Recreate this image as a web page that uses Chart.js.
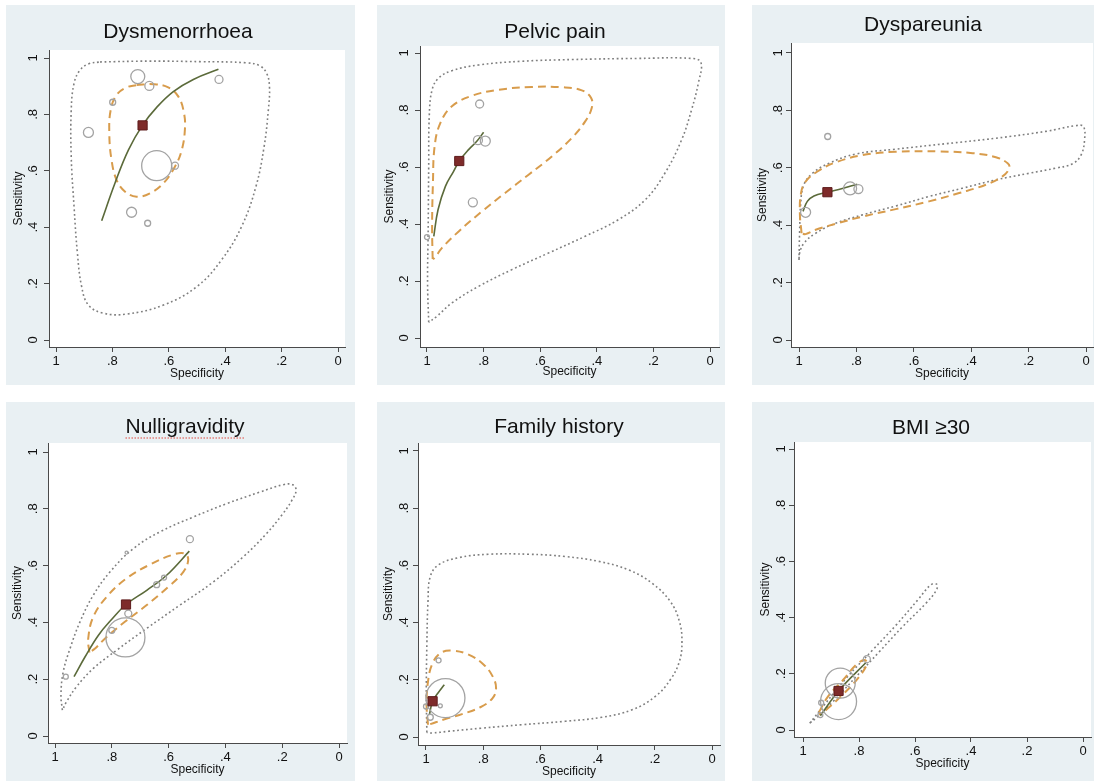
<!DOCTYPE html>
<html>
<head>
<meta charset="utf-8">
<script src="https://cdn.jsdelivr.net/npm/chart.js@4.4.1/dist/chart.umd.min.js"></script>
<style>
  html, body { margin: 0; padding: 0; background: #fff; }
  #page { position: relative; width: 1094px; height: 782px; overflow: hidden; }
  .panel { position: absolute; background: #e9f0f3; }
  .panel canvas { position: absolute; left: 0; top: 0; }
</style>
</head>
<body>
<div id="page"></div>
<script>
// Axis ticks (same for both axes, x runs 1 -> 0)
const tickValues = [0, 0.2, 0.4, 0.6, 0.8, 1];
const tickLabels = ['0', '.2', '.4', '.6', '.8', '1'];
const titles = ['Dysmenorrhoea', 'Pelvic pain', 'Dyspareunia', 'Nulligravidity', 'Family history', 'BMI ≥30'];

// Points are [specificity, sensitivity]
// Dysmenorrhoea
const dysmPred = [[0.844, 0.986], [0.667, 0.989], [0.489, 0.987], [0.324, 0.983], [0.277, 0.972], [0.253, 0.946], [0.243, 0.898], [0.247, 0.816], [0.262, 0.686], [0.291, 0.544], [0.342, 0.402], [0.413, 0.284], [0.501, 0.189], [0.619, 0.124], [0.749, 0.092], [0.832, 0.095], [0.885, 0.124], [0.909, 0.189], [0.924, 0.307], [0.936, 0.473], [0.946, 0.650], [0.946, 0.816], [0.936, 0.910], [0.915, 0.957], [0.885, 0.979], [0.844, 0.986]];
const dysmConf = [[0.714, 0.904], [0.655, 0.907], [0.602, 0.896], [0.566, 0.863], [0.546, 0.804], [0.543, 0.745], [0.554, 0.674], [0.578, 0.615], [0.619, 0.556], [0.667, 0.520], [0.714, 0.508], [0.755, 0.526], [0.785, 0.567], [0.803, 0.638], [0.811, 0.733], [0.806, 0.816], [0.785, 0.869], [0.749, 0.896], [0.714, 0.904]];
const dysmSroc = [[0.838, 0.423], [0.791, 0.556], [0.743, 0.674], [0.693, 0.762], [0.643, 0.825], [0.584, 0.881], [0.513, 0.924], [0.424, 0.960]];
const dysmSummary = [[0.693, 0.761]];
const dysmStudies = [[0.710, 0.934], [0.669, 0.901], [0.422, 0.924], [0.799, 0.843], [0.885, 0.736], [0.643, 0.618], [0.578, 0.618], [0.732, 0.453], [0.675, 0.414]];
const dysmWeights = [7, 4.5, 4, 3, 5, 15, 3.5, 5, 3];

// Pelvic pain
const pelvPred = [[0.994, 0.055], [0.998, 0.193], [0.996, 0.368], [0.994, 0.602], [0.992, 0.778], [0.982, 0.871], [0.959, 0.912], [0.912, 0.938], [0.818, 0.958], [0.665, 0.971], [0.488, 0.977], [0.253, 0.981], [0.065, 0.981], [0.032, 0.967], [0.041, 0.895], [0.065, 0.801], [0.100, 0.696], [0.159, 0.579], [0.229, 0.485], [0.324, 0.415], [0.441, 0.357], [0.571, 0.298], [0.700, 0.240], [0.818, 0.181], [0.912, 0.123], [0.965, 0.076], [0.994, 0.055]];
const pelvConf = [[0.980, 0.277], [0.982, 0.392], [0.979, 0.544], [0.973, 0.673], [0.953, 0.754], [0.912, 0.813], [0.841, 0.850], [0.747, 0.871], [0.629, 0.881], [0.524, 0.880], [0.453, 0.869], [0.420, 0.842], [0.418, 0.807], [0.441, 0.760], [0.488, 0.702], [0.559, 0.637], [0.641, 0.573], [0.724, 0.509], [0.806, 0.444], [0.888, 0.374], [0.947, 0.316], [0.973, 0.281], [0.980, 0.277]];
const pelvSroc = [[0.976, 0.357], [0.961, 0.450], [0.935, 0.532], [0.906, 0.585], [0.886, 0.621], [0.853, 0.661], [0.824, 0.690], [0.800, 0.722]];
const pelvSummary = [[0.886, 0.621]];
const pelvStudies = [[0.814, 0.821], [0.820, 0.694], [0.794, 0.691], [0.838, 0.476], [1.0, 0.354]];
const pelvWeights = [4, 4.5, 5, 4.5, 2.5];

// Dyspareunia
const dyspPred = [[1.0, 0.279], [0.998, 0.372], [0.994, 0.477], [0.983, 0.541], [0.953, 0.581], [0.895, 0.616], [0.802, 0.648], [0.663, 0.665], [0.488, 0.684], [0.314, 0.703], [0.140, 0.727], [0.035, 0.747], [0.009, 0.744], [0.005, 0.698], [0.017, 0.645], [0.047, 0.614], [0.105, 0.599], [0.198, 0.581], [0.314, 0.558], [0.430, 0.529], [0.547, 0.500], [0.663, 0.467], [0.779, 0.436], [0.872, 0.407], [0.942, 0.372], [0.983, 0.337], [0.998, 0.302], [1.0, 0.279]];
const dyspConf = [[0.991, 0.372], [0.997, 0.442], [0.993, 0.512], [0.977, 0.552], [0.936, 0.587], [0.872, 0.619], [0.779, 0.644], [0.663, 0.656], [0.512, 0.657], [0.395, 0.651], [0.314, 0.637], [0.273, 0.616], [0.267, 0.599], [0.291, 0.570], [0.349, 0.541], [0.442, 0.512], [0.547, 0.483], [0.663, 0.456], [0.779, 0.430], [0.872, 0.405], [0.942, 0.384], [0.977, 0.369], [0.991, 0.372]];
const dyspSroc = [[0.986, 0.448], [0.971, 0.483], [0.948, 0.502], [0.901, 0.515], [0.849, 0.528], [0.797, 0.543]];
const dyspSummary = [[0.901, 0.515]];
const dyspStudies = [[0.900, 0.709], [0.822, 0.528], [0.793, 0.526], [0.977, 0.445]];
const dyspWeights = [3, 6.5, 4.5, 5];

// Nulligravidity
const nullPred = [[0.974, 0.091], [0.979, 0.144], [0.971, 0.226], [0.947, 0.308], [0.912, 0.402], [0.865, 0.496], [0.806, 0.578], [0.724, 0.660], [0.630, 0.719], [0.513, 0.771], [0.396, 0.818], [0.278, 0.859], [0.196, 0.885], [0.163, 0.885], [0.151, 0.865], [0.167, 0.828], [0.202, 0.777], [0.255, 0.713], [0.337, 0.631], [0.442, 0.543], [0.560, 0.461], [0.677, 0.379], [0.783, 0.302], [0.865, 0.238], [0.924, 0.174], [0.959, 0.121], [0.974, 0.091]];
const nullConf = [[0.879, 0.294], [0.883, 0.343], [0.865, 0.420], [0.818, 0.490], [0.748, 0.555], [0.665, 0.604], [0.583, 0.639], [0.542, 0.642], [0.531, 0.619], [0.548, 0.578], [0.601, 0.525], [0.677, 0.461], [0.754, 0.402], [0.818, 0.349], [0.859, 0.308], [0.879, 0.294]];
const nullSroc = [[0.933, 0.209], [0.894, 0.279], [0.847, 0.355], [0.800, 0.411], [0.750, 0.463], [0.677, 0.513], [0.607, 0.566], [0.527, 0.651]];
const nullSummary = [[0.750, 0.463]];
const nullStudies = [[0.525, 0.693], [0.748, 0.646], [0.642, 0.533], [0.616, 0.558], [0.742, 0.431], [0.800, 0.372], [0.752, 0.347], [0.962, 0.209]];
const nullWeights = [3.5, 1.5, 3, 2.5, 3.5, 3, 19.5, 2.5];

// Family history
const famPred = [[0.997, 0.016], [0.999, 0.148], [0.997, 0.322], [0.993, 0.474], [0.985, 0.561], [0.956, 0.602], [0.886, 0.627], [0.781, 0.639], [0.641, 0.639], [0.513, 0.631], [0.396, 0.614], [0.291, 0.584], [0.210, 0.538], [0.146, 0.474], [0.114, 0.404], [0.105, 0.334], [0.114, 0.264], [0.146, 0.200], [0.198, 0.142], [0.280, 0.095], [0.385, 0.069], [0.513, 0.055], [0.664, 0.043], [0.804, 0.031], [0.921, 0.020], [0.979, 0.014], [0.997, 0.016]];
const famConf = [[0.993, 0.043], [0.998, 0.113], [0.993, 0.194], [0.979, 0.253], [0.950, 0.293], [0.909, 0.302], [0.851, 0.288], [0.798, 0.253], [0.767, 0.212], [0.755, 0.171], [0.767, 0.136], [0.810, 0.104], [0.874, 0.080], [0.938, 0.061], [0.985, 0.045], [0.993, 0.043]];
const famSroc = [[0.988, 0.078], [0.977, 0.125], [0.958, 0.154], [0.936, 0.183]];
const famSummary = [[0.977, 0.125]];
const famStudies = [[0.932, 0.136], [0.956, 0.268], [0.950, 0.109], [1.0, 0.107], [0.985, 0.069]];
const famWeights = [19.5, 2.5, 2, 2.5, 3];

// BMI >= 30
const bmiPred = [[0.976, 0.024], [0.929, 0.083], [0.846, 0.184], [0.751, 0.285], [0.667, 0.374], [0.590, 0.463], [0.543, 0.517], [0.523, 0.519], [0.523, 0.499], [0.561, 0.451], [0.644, 0.368], [0.727, 0.279], [0.810, 0.190], [0.893, 0.101], [0.952, 0.044], [0.976, 0.024]];
const bmiConf = [[0.943, 0.063], [0.911, 0.119], [0.857, 0.178], [0.810, 0.232], [0.780, 0.249], [0.772, 0.234], [0.804, 0.184], [0.857, 0.127], [0.911, 0.077], [0.938, 0.056], [0.943, 0.063]];
const bmiSroc = [[0.938, 0.051], [0.873, 0.139], [0.774, 0.241]];
const bmiSummary = [[0.873, 0.139]];
const bmiStudies = [[0.867, 0.167], [0.873, 0.101], [0.772, 0.252], [0.935, 0.097], [0.938, 0.053]];
const bmiWeights = [15, 18, 3.5, 2.5, 2.5];

const series = [
  { pred: dysmPred, conf: dysmConf, sroc: dysmSroc, summary: dysmSummary, studies: dysmStudies, weights: dysmWeights },
  { pred: pelvPred, conf: pelvConf, sroc: pelvSroc, summary: pelvSummary, studies: pelvStudies, weights: pelvWeights },
  { pred: dyspPred, conf: dyspConf, sroc: dyspSroc, summary: dyspSummary, studies: dyspStudies, weights: dyspWeights },
  { pred: nullPred, conf: nullConf, sroc: nullSroc, summary: nullSummary, studies: nullStudies, weights: nullWeights },
  { pred: famPred, conf: famConf, sroc: famSroc, summary: famSummary, studies: famStudies, weights: famWeights },
  { pred: bmiPred, conf: bmiConf, sroc: bmiSroc, summary: bmiSummary, studies: bmiStudies, weights: bmiWeights },
];

// Page geometry (pixels): panel box, plot area, tick pixel anchors, text centres
const geometry = [
  { box: [6, 5, 349, 380], area: [49, 50, 345, 347], x1: 56, x0: 338, y1: 58, y0: 340, titleX: 178, titleY: 32, yTitleX: 19, xTitleY: 374, yLabX: 33 },
  { box: [377, 5, 348, 380], area: [420, 46, 719, 347], x1: 427, x0: 710, y1: 53, y0: 338, titleX: 555, titleY: 32, yTitleX: 390, xTitleY: 372, yLabX: 404 },
  { box: [752, 5, 342, 380], area: [791, 43, 1093, 347], x1: 799, x0: 1086, y1: 53, y0: 340, titleX: 923, titleY: 25, yTitleX: 763, xTitleY: 374, yLabX: 778 },
  { box: [6, 402, 349, 379], area: [48, 443, 347, 743], x1: 55, x0: 339, y1: 452, y0: 736, titleX: 185, titleY: 427, yTitleX: 18, xTitleY: 770, yLabX: 33, underline: true },
  { box: [377, 402, 348, 379], area: [418, 443, 720, 745], x1: 426, x0: 712, y1: 451, y0: 737, titleX: 559, titleY: 427, yTitleX: 389, xTitleY: 772, yLabX: 404 },
  { box: [752, 402, 342, 379], area: [794, 442, 1091, 737], x1: 803, x0: 1083, y1: 449, y0: 730, titleX: 931, titleY: 428, yTitleX: 766, xTitleY: 764, yLabX: 781 },
];

const FONT = 'Liberation Sans, Arial, Helvetica, sans-serif';
const TITLE_SIZE = 21;
const AXIS_TITLE_SIZE = 12;
const TICK_SIZE = 13;
const AXIS_COLOR = '#4a4a4a';
const TEXT_COLOR = '#111';

Chart.defaults.font.family = FONT;

const toXY = (arr) => arr.map(([x, y]) => ({ x, y }));

// white plot region, rotated y labels, spell-check squiggle under a title
const stataFrame = {
  id: 'stataFrame',
  beforeDraw(chart) {
    const { ctx, chartArea: a } = chart;
    ctx.save();
    ctx.fillStyle = '#fff';
    ctx.fillRect(a.left, a.top, a.right - a.left, a.bottom - a.top);
    ctx.restore();
  },
  afterDraw(chart, args, opts) {
    const { ctx } = chart;
    const yScale = chart.scales.y;
    ctx.save();
    ctx.font = `${TICK_SIZE}px ${FONT}`;
    ctx.fillStyle = TEXT_COLOR;
    ctx.textAlign = 'center';
    ctx.textBaseline = 'middle';
    tickValues.forEach((v, i) => {
      ctx.save();
      ctx.translate(opts.labelX, yScale.getPixelForValue(v));
      ctx.rotate(-Math.PI / 2);
      ctx.fillText(tickLabels[i], 0, 0);
      ctx.restore();
    });
    if (opts.underline) {
      ctx.font = `${TITLE_SIZE}px ${FONT}`;
      const w = ctx.measureText(chart.options.plugins.title.text).width;
      ctx.strokeStyle = '#e0463c';
      ctx.lineWidth = 1.2;
      ctx.setLineDash([1.5, 1.5]);
      ctx.beginPath();
      ctx.moveTo(opts.titleX - w / 2, opts.titleY + 11);
      ctx.lineTo(opts.titleX + w / 2, opts.titleY + 11);
      ctx.stroke();
    }
    ctx.restore();
  },
};

const page = document.getElementById('page');

geometry.forEach((g, i) => {
  const s = series[i];
  const [bx, by, bw, bh] = g.box;
  const [L, T, R, B] = g.area;

  const div = document.createElement('div');
  div.className = 'panel';
  div.style.left = `${bx}px`;
  div.style.top = `${by}px`;
  div.style.width = `${bw}px`;
  div.style.height = `${bh}px`;
  const canvas = document.createElement('canvas');
  canvas.width = bw;
  canvas.height = bh;
  div.appendChild(canvas);
  page.appendChild(div);

  // layout numbers so the plot region lands where it is in the figure
  const padR = bx + bw - R;
  const padL = 2 * (g.titleX - bx) - bw + padR;
  const yAxisW = L - bx - padL;
  const xAxisH = by + bh - B;
  const titleLH = 1.2 * TITLE_SIZE;
  const titlePadTop = g.titleY - by - titleLH / 2;
  const titlePadBottom = T - by - titlePadTop - titleLH;
  const axisLH = 1.2 * AXIS_TITLE_SIZE;
  const yTitlePad = g.yTitleX - (bx + padL) - axisLH / 2;
  const xTitlePad = by + bh - g.xTitleY - axisLH / 2;

  const axisCommon = {
    type: 'linear',
    afterBuildTicks: (scale) => { scale.ticks = tickValues.map((v) => ({ value: v })); },
    border: { display: true, color: AXIS_COLOR, width: 1 },
    grid: { display: true, drawOnChartArea: false, drawTicks: true, tickLength: 5, color: AXIS_COLOR },
  };

  // eslint-disable-next-line no-new
  new Chart(canvas, {
    type: 'scatter',
    data: {
      datasets: [
        // prediction region, grey dots
        {
          data: toXY(s.pred),
          showLine: true,
          tension: 0.4,
          borderColor: '#7f7f7f',
          borderWidth: 1.6,
          borderDash: [1.8, 2.7],
          pointRadius: 0,
          fill: false,
          order: 5,
        },
        // confidence region, orange dashes
        {
          data: toXY(s.conf),
          showLine: true,
          tension: 0.4,
          borderColor: '#d89c4c',
          borderWidth: 2,
          borderDash: [8, 5],
          pointRadius: 0,
          fill: false,
          order: 4,
        },
        // SROC curve
        {
          data: toXY(s.sroc),
          showLine: true,
          tension: 0.4,
          borderColor: '#5b6a3a',
          borderWidth: 1.6,
          pointRadius: 0,
          fill: false,
          order: 3,
        },
        // individual studies
        {
          data: toXY(s.studies),
          showLine: false,
          pointRadius: s.weights,
          pointBackgroundColor: 'rgba(0,0,0,0)',
          pointBorderColor: '#a3a3a3',
          pointBorderWidth: 1.3,
          order: 2,
        },
        // summary point
        {
          data: toXY(s.summary),
          showLine: false,
          pointStyle: 'rect',
          pointRadius: 6.5,
          pointBackgroundColor: '#7e2b2a',
          pointBorderColor: '#5e1c1c',
          pointBorderWidth: 1,
          order: 1,
        },
      ],
    },
    options: {
      responsive: false,
      animation: false,
      events: [],
      layout: {
        autoPadding: false,
        padding: { left: padL, right: padR, top: 0, bottom: 0 },
      },
      scales: {
        x: {
          ...axisCommon,
          position: 'bottom',
          reverse: true,
          min: (g.x0 - R) / (g.x0 - g.x1),
          max: (g.x0 - L) / (g.x0 - g.x1),
          afterFit: (scale) => { scale.height = xAxisH; },
          ticks: {
            autoSkip: false,
            maxRotation: 0,
            padding: 2,
            color: TEXT_COLOR,
            font: { size: TICK_SIZE },
            callback: (v) => tickLabels[tickValues.indexOf(v)],
          },
          title: {
            display: true,
            text: 'Specificity',
            color: TEXT_COLOR,
            font: { size: AXIS_TITLE_SIZE },
            padding: { top: 0, bottom: xTitlePad },
          },
        },
        y: {
          ...axisCommon,
          position: 'left',
          min: (g.y0 - B) / (g.y0 - g.y1),
          max: (g.y0 - T) / (g.y0 - g.y1),
          afterFit: (scale) => { scale.width = yAxisW; },
          ticks: { display: false },
          title: {
            display: true,
            text: 'Sensitivity',
            color: TEXT_COLOR,
            font: { size: AXIS_TITLE_SIZE },
            padding: { top: yTitlePad, bottom: 0 },
          },
        },
      },
      plugins: {
        legend: { display: false },
        tooltip: { enabled: false },
        title: {
          display: true,
          text: titles[i],
          color: TEXT_COLOR,
          font: { size: TITLE_SIZE, weight: 'normal' },
          padding: { top: titlePadTop, bottom: titlePadBottom },
        },
        stataFrame: {
          labelX: g.yLabX - bx,
          underline: !!g.underline,
          titleX: g.titleX - bx,
          titleY: g.titleY - by,
        },
      },
    },
    plugins: [stataFrame],
  });
});
</script>
</body>
</html>
